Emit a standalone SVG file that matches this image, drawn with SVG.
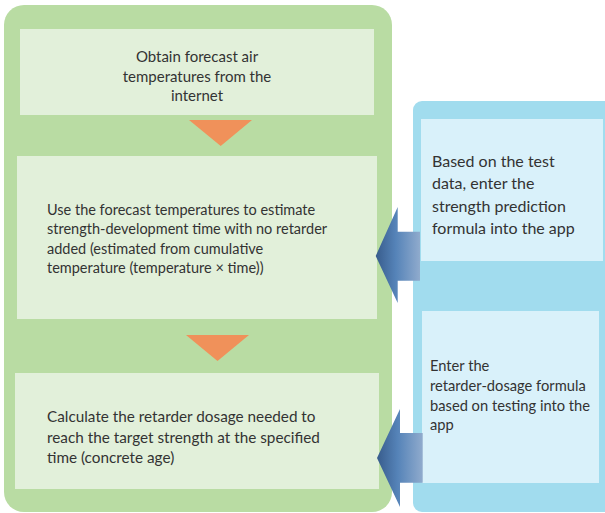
<svg xmlns="http://www.w3.org/2000/svg" width="605" height="513" viewBox="0 0 605 513">
<style>
.t{font-family:Lato,"Open Sans",sans-serif;fill:#333333;}
.gbox{fill:#e2f0da;}
.bbox{fill:#d9f1fa;}
.tri{fill:#f0915a;}
</style>
<defs>
<linearGradient id="ag" x1="0" y1="0" x2="1" y2="0">
<stop offset="0" stop-color="#385c8c"/>
<stop offset="0.45" stop-color="#5583b8"/>
<stop offset="1" stop-color="#90abcd"/>
</linearGradient>
</defs>
<rect id="green-panel" x="4" y="5" width="388" height="507" rx="20" fill="#b9dca3"/>
<rect id="blue-panel" x="413" y="101" width="210" height="411" rx="9" fill="#a1dcee"/>
<g id="n1">
<rect class="gbox" x="20" y="29" width="354" height="86"/>
<text class="t" font-size="15" text-anchor="middle"><tspan x="197" y="62">Obtain forecast air</tspan><tspan x="197" y="81.5">temperatures from the</tspan><tspan x="197" y="101">internet</tspan></text>
</g>
<g id="n2">
<rect class="gbox" x="17" y="156" width="360" height="163"/>
<text class="t" font-size="14.5"><tspan x="47" y="215">Use the forecast temperatures to estimate</tspan><tspan x="47" y="234.3">strength-development time with no retarder</tspan><tspan x="47" y="253.6">added (estimated from cumulative</tspan><tspan x="47" y="273">temperature (temperature × time))</tspan></text>
</g>
<g id="n3">
<rect class="gbox" x="15" y="373" width="364" height="116"/>
<text class="t" font-size="15.3"><tspan x="47" y="422">Calculate the retarder dosage needed to</tspan><tspan x="47" y="442.7">reach the target strength at the specified</tspan><tspan x="47" y="463.4">time (concrete age)</tspan></text>
</g>
<g id="n4">
<rect class="bbox" x="421" y="119" width="182" height="142"/>
<text class="t" font-size="16"><tspan x="432" y="167">Based on the test</tspan><tspan x="432" y="189.3">data, enter the</tspan><tspan x="432" y="211.6">strength prediction</tspan><tspan x="432" y="233.9">formula into the app</tspan></text>
</g>
<g id="n5">
<rect class="bbox" x="422" y="311" width="177" height="172" fill="#dcf2fa"/>
<text class="t" font-size="14.7"><tspan x="430" y="371">Enter the</tspan><tspan x="430" y="390.8">retarder-dosage formula</tspan><tspan x="430" y="410.6">based on testing into the</tspan><tspan x="430" y="430.4">app</tspan></text>
</g>
<g id="connectors">
<polygon class="tri" points="189,120 252,120 220.7,146"/>
<polygon class="tri" points="186,335 249,335 217.5,361"/>
<polygon fill="url(#ag)" points="375.7,256 397.7,207 397.7,231.7 420,231.7 420,280.7 397.7,280.7 397.7,303"/>
<polygon fill="url(#ag)" points="377,458 400,409 400,433 422.7,433 422.7,482.7 400,482.7 400,507"/>
</g>
</svg>
